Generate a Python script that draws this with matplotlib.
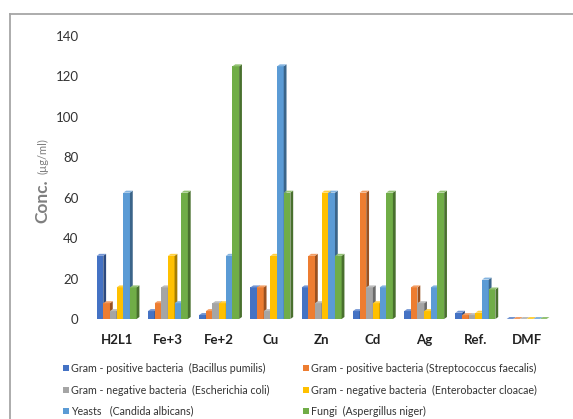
import matplotlib
matplotlib.use("Agg")
import matplotlib.pyplot as plt
import numpy as np
from matplotlib.patches import Polygon, Rectangle
from matplotlib.lines import Line2D
from matplotlib.colors import to_rgb

compounds = ["H2L1", "Fe+3", "Fe+2", "Cu", "Zn", "Cd", "Ag", "Ref.", "DMF"]

series_names = [
    "Gram - positive bacteria  (Bacillus pumilis)",
    "Gram - positive bacteria (Streptococcus faecalis)",
    "Gram - negative bacteria  (Escherichia coli)",
    "Gram - negative bacteria  (Enterobacter cloacae)",
    "Yeasts   (Candida albicans)",
    "Fungi  (Aspergillus niger)",
]

bacillus = [31.25, 3.9, 1.95, 15.63, 15.63, 3.9, 3.9, 3.1, 0]
streptococcus = [7.81, 7.81, 3.9, 15.63, 31.25, 62.5, 15.63, 1.9, 0]
escherichia = [3.9, 15.63, 7.81, 3.9, 7.81, 15.63, 7.81, 1.9, 0]
enterobacter = [15.63, 31.25, 7.81, 31.25, 62.5, 7.81, 3.9, 3.1, 0]
candida = [62.5, 7.81, 31.25, 125, 62.5, 15.63, 15.63, 19.5, 0]
aspergillus = [15.63, 62.5, 125, 62.5, 31.25, 62.5, 62.5, 14.6, 0]

series_values = [bacillus, streptococcus, escherichia, enterobacter, candida, aspergillus]
colors = ["#4472C4", "#ED7D31", "#A5A5A5", "#FFC000", "#5B9BD5", "#70AD47"]

W, H = 573, 419
fig = plt.figure(figsize=(W / 100, H / 100), dpi=100)
fig.patch.set_facecolor("white")

def fx(px):
    return px / W

def fy(py):
    return 1 - py / H

# plot area: y=0 at pixel row 319, y=140 at 36; groups spaced 51.25 px
ax_left, ax_right = 91, 552.3
ax = fig.add_axes([fx(ax_left), fy(319), (ax_right - ax_left) / W, (319 - 36) / H])
ax.set_xlim(-0.5, 8.5)
ax.set_ylim(0, 140)
for s in ax.spines.values():
    s.set_visible(False)

font = "Lato"
n = len(series_values)
bw = 0.13
x = np.arange(len(compounds))

# pseudo-3D depth: a few pixels right and up
px_per_x = (ax_right - ax_left) / 9.0
px_per_y = (319 - 36) / 140.0
dx = 2.8 / px_per_x
dy = 2.0 / px_per_y

def shade(c, f):
    r, g, b = to_rgb(c)
    return (r * f, g * f, b * f)

def tint(c, f):
    r, g, b = to_rgb(c)
    return (r + (1 - r) * f, g + (1 - g) * f, b + (1 - b) * f)

for j, (vals, col) in enumerate(zip(series_values, colors)):
    offs = x + (j - (n - 1) / 2) * bw
    z = 2 + j
    ax.bar(offs, vals, width=bw, color=col, zorder=z, linewidth=0)
    for xc, h in zip(offs, vals):
        x0, x1 = xc - bw / 2, xc + bw / 2
        side = Polygon([(x1, 0), (x1 + dx, dy), (x1 + dx, h + dy), (x1, h)],
                       closed=True, facecolor=shade(col, 0.65), edgecolor="none", zorder=z)
        top = Polygon([(x0, h), (x1, h), (x1 + dx, h + dy), (x0 + dx, h + dy)],
                      closed=True, facecolor=tint(col, 0.25), edgecolor="none", zorder=z)
        ax.add_patch(side)
        ax.add_patch(top)

ax.set_yticks(np.arange(0, 141, 20))
ax.set_xticks(x)
ax.set_xticklabels(compounds, fontfamily=font, fontweight="bold", fontsize=9.5, color="#222222")
ax.tick_params(axis="x", length=0, pad=11)
ax.tick_params(axis="y", length=0, pad=9, labelsize=9.5, labelcolor="#333333")
for t in ax.get_yticklabels():
    t.set_fontfamily(font)

# axis title in two sizes
fig.text(fx(42), fy(201), "Conc.", rotation=90, ha="center", va="center",
         fontfamily=font, fontweight="bold", fontsize=12.5, color="#7f7f7f")
fig.text(fx(43), fy(156), "(µg/ml)", rotation=90, ha="center", va="center",
         fontfamily=font, fontsize=8, color="#7f7f7f")

# legend in two columns
rows_y = [368, 390, 411]
cols_x = [63, 303]
for k, (name, col) in enumerate(zip(series_names, colors)):
    r, c = divmod(k, 2)
    mx, my = cols_x[c], rows_y[r]
    fig.patches.append(Rectangle((fx(mx), fy(my + 3)), 6 / W, 6 / H,
                                 transform=fig.transFigure, facecolor=col,
                                 edgecolor="none"))
    fig.text(fx(mx + 8), fy(my), name, ha="left", va="center",
             fontfamily=font, fontsize=7.7, color="#333333")

# frame lines along top and left
fig.add_artist(Line2D([fx(10), 1], [fy(14), fy(14)], transform=fig.transFigure,
                      color="#a6a6a6", linewidth=1.3))
fig.add_artist(Line2D([fx(10), fx(10)], [fy(14), 0], transform=fig.transFigure,
                      color="#a6a6a6", linewidth=1.3))

fig.savefig("out.png", dpi=100)
